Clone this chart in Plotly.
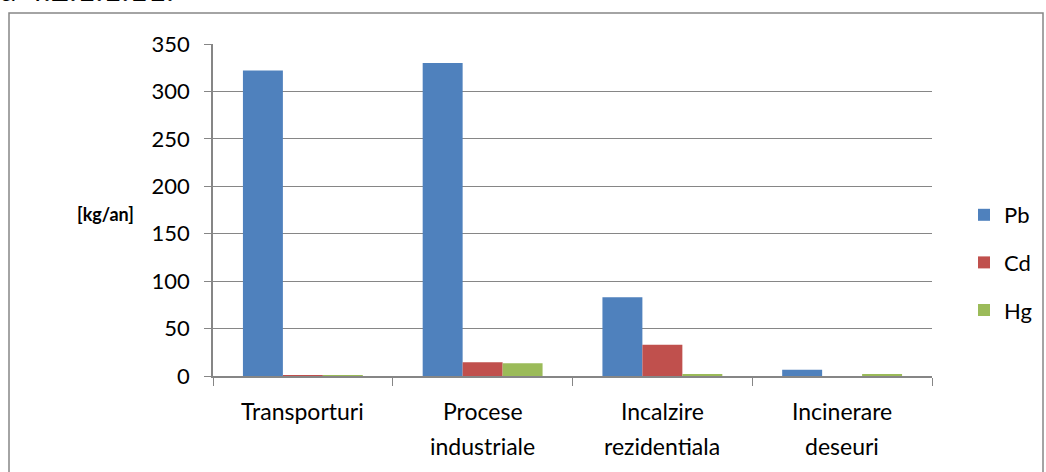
import plotly.graph_objects as go

categories = ["Transporturi", "Procese industriale", "Incalzire rezidentiala", "Incinerare deseuri"]
pb = [322, 330, 83, 6.5]
cd = [1, 14.5, 33, 0]
hg = [0.6, 13.5, 1.5, 2]
y_ticks = [0, 50, 100, 150, 200, 250, 300, 350]

W, H = 1046, 472
L, R, T, B = 213, 114, 44, 96
pw, ph = W - L - R, H - T - B

def px_x(x):
    return (x - L) / pw

def px_y(y):
    return (H - B - y) / ph

font = "Lato, 'Open Sans', sans-serif"

fig = go.Figure()
for name, vals, col in [("Pb", pb, "#4F81BD"), ("Cd", cd, "#C0504D"), ("Hg", hg, "#9BBB59")]:
    fig.add_trace(go.Bar(
        x=categories, y=vals, name=name, legendgroup=name,
        marker=dict(color=col, line=dict(width=0)),
    ))

# category labels: one annotation per line, wider line spacing than tick labels allow
cat_annotations = []
for cat in categories:
    for i, line in enumerate(cat.split(" ")):
        cat_annotations.append(dict(
            text=line, xref="x", yref="paper", x=cat, y=px_y(411 + 35 * i),
            xanchor="center", yanchor="middle", showarrow=False,
            font=dict(size=23),
        ))

fig.update_layout(
    width=W, height=H,
    margin=dict(l=L, r=R, t=T, b=B, autoexpand=False),
    paper_bgcolor="white", plot_bgcolor="white",
    barmode="group", bargap=0.333, bargroupgap=0,
    font=dict(family=font, size=18, color="#000000"),
    showlegend=True,
    legend=dict(
        x=px_x(964), xanchor="left", y=px_y(194), yanchor="top",
        font=dict(size=22), tracegroupgap=16, itemwidth=30,
        bgcolor="rgba(0,0,0,0)",
    ),
    xaxis=dict(
        showline=True, linecolor="#868686", linewidth=1.5,
        ticks="outside", tickson="boundaries", ticklen=8, tickcolor="#868686",
        showticklabels=False, showgrid=False, fixedrange=True,
    ),
    yaxis=dict(
        range=[0, 350], tickvals=y_ticks,
        showline=True, linecolor="#868686", linewidth=1.5,
        ticks="outside", ticklen=7, tickcolor="#868686", ticklabelstandoff=10,
        showgrid=True, gridcolor="#868686", gridwidth=1,
        tickfont=dict(size=22), zeroline=False, fixedrange=True,
    ),
    shapes=[dict(
        type="rect", xref="paper", yref="paper",
        x0=px_x(9), x1=px_x(1043), y0=px_y(13), y1=px_y(520),
        line=dict(color="#868686", width=1.5), fillcolor="rgba(0,0,0,0)",
        layer="below",
    )],
    annotations=cat_annotations + [
        dict(text="<b>[kg/an]</b>", xref="paper", yref="paper",
             x=px_x(106), y=px_y(214), xanchor="center", yanchor="middle",
             showarrow=False, font=dict(size=18)),
        dict(text="Figura 4.2.1.1.11.", xref="paper", yref="paper",
             x=px_x(176), y=px_y(10), xanchor="right", yanchor="bottom",
             showarrow=False, font=dict(size=32)),
    ],
)

fig.write_html("out.html")
